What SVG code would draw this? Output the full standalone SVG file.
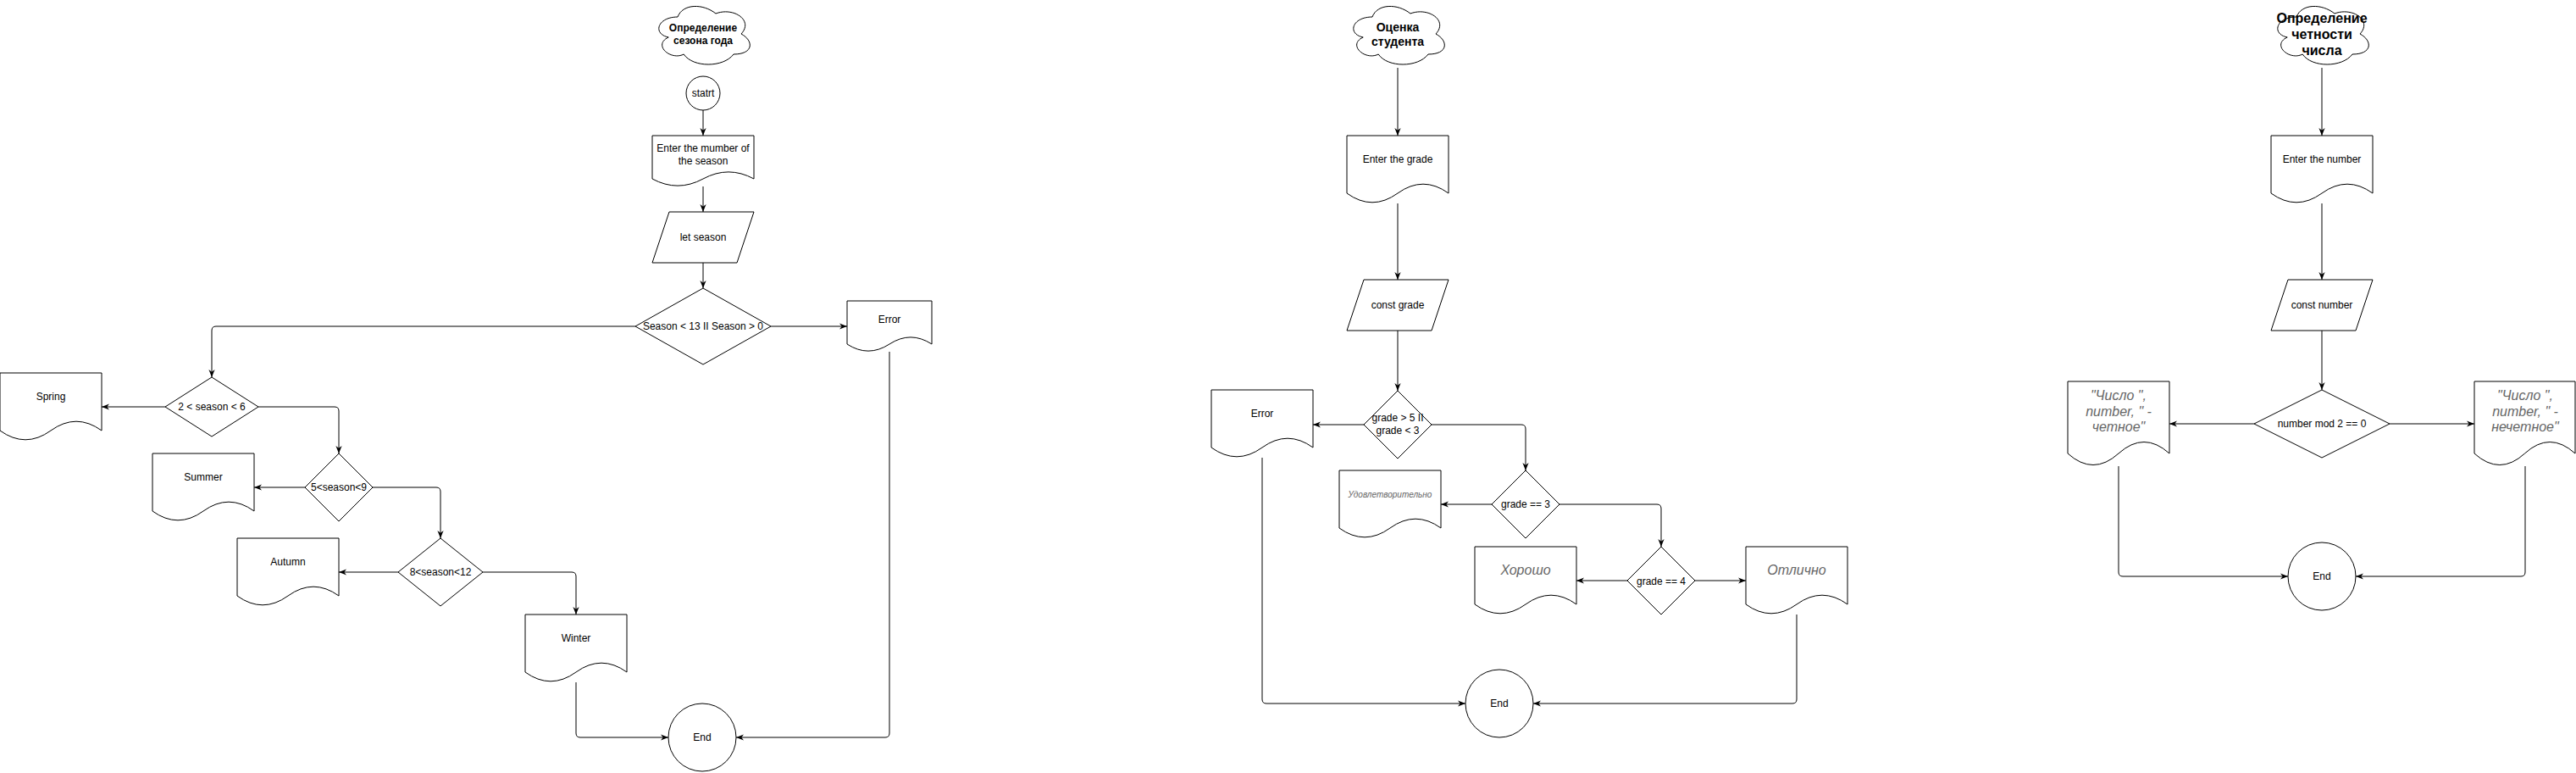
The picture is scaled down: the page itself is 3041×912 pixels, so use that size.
<svg xmlns="http://www.w3.org/2000/svg" width="3041" height="912" viewBox="0 0 3041 912">
<style>
.s{fill:#fff;stroke:#000;stroke-width:1}
.c{fill:none;stroke:#000;stroke-width:1}
text{font-family:"Liberation Sans",Arial,Helvetica,sans-serif;font-size:12px;fill:#000;text-anchor:middle;dominant-baseline:central}
.b12{font-weight:bold;font-size:12px}
.b14{font-weight:bold;font-size:14px}
.b16{font-weight:bold;font-size:16px}
.g{font-style:italic;fill:#666}
.g10{font-size:10px}
.g16{font-size:16px}
</style>
<defs>
<path id="cloud" d="M30,20 C6,20 0,40 19.2,44 C0,52.8 21.6,72 37.2,64 C48,80 84,80 96,64 C120,64 120,48 105,40 C120,24 96,8 75,16 C60,4 36,4 30,20 Z"/>
<marker id="a" viewBox="0 0 10 10" refX="10" refY="5" markerWidth="9" markerHeight="9" markerUnits="userSpaceOnUse" orient="auto"><path d="M0,1 L10,5 L0,9 L3,5 Z" fill="#000"/></marker>
</defs>
<rect width="3041" height="912" fill="#fff"/>

<g id="connectors" class="c" marker-end="url(#a)">
<path d="M830,130 V160"/>
<path d="M830,220 V250"/>
<path d="M830,310 V340"/>
<path d="M910,385 H1000"/>
<path d="M750,385 H255 Q250,385 250,390 V445"/>
<path d="M195,480 H120"/>
<path d="M305,480 H395 Q400,480 400,485 V535"/>
<path d="M360,575 H300"/>
<path d="M440,575 H515 Q520,575 520,580 V635"/>
<path d="M470,675 H400"/>
<path d="M570,675 H675 Q680,675 680,680 V725"/>
<path d="M680,805 V865 Q680,870 685,870 H789"/>
<path d="M1050,415 V865 Q1050,870 1045,870 H869"/>

<path d="M1650,80 V160"/>
<path d="M1650,240 V330"/>
<path d="M1650,390 V461"/>
<path d="M1610,501 H1550"/>
<path d="M1690,501 H1796 Q1801,501 1801,506 V555"/>
<path d="M1761,595 H1701"/>
<path d="M1841,595 H1956 Q1961,595 1961,600 V645"/>
<path d="M1921,685 H1861"/>
<path d="M2001,685 H2061"/>
<path d="M1490,540 V825 Q1490,830 1495,830 H1730"/>
<path d="M2121,725 V825 Q2121,830 2116,830 H1810"/>

<path d="M2741,80 V160"/>
<path d="M2741,240 V330"/>
<path d="M2741,390 V460"/>
<path d="M2661,500 H2561"/>
<path d="M2821,500 H2921"/>
<path d="M2501,550 V675 Q2501,680 2506,680 H2701"/>
<path d="M2981,550 V675 Q2981,680 2976,680 H2781"/>
</g>

<!-- Chart 1 -->
<g id="cloud1"><use href="#cloud" x="770" y="0" class="s"/><text x="830" y="33" class="b12">Определение</text><text x="830" y="48" class="b12">сезона года</text></g>
<g id="start1"><circle cx="830" cy="110" r="20" class="s"/><text x="830" y="110">statrt</text></g>
<g id="enter1"><path class="s" d="M770,160 H890 V211 Q860,194.8 830,211 Q800,227.2 770,211 Z"/><text x="830" y="175">Enter the mumber of</text><text x="830" y="190">the season</text></g>
<g id="let1"><polygon class="s" points="790,250 890,250 870,310 770,310"/><text x="830" y="280">let season</text></g>
<g id="d1"><polygon class="s" points="830,340 910,385 830,430 750,385"/><text x="830" y="385">Season &lt; 13 II Season &gt; 0</text></g>
<g id="error1"><path class="s" d="M1000,355 H1100 V406 Q1075,389.8 1050,406 Q1025,422.2 1000,406 Z"/><text x="1050" y="377">Error</text></g>
<g id="d2"><polygon class="s" points="250,445 305,480 250,515 195,480"/><text x="250" y="480">2 &lt; season &lt; 6</text></g>
<g id="spring"><path class="s" d="M0,440 H120 V508 Q90,486.4 60,508 Q30,529.6 0,508 Z"/><text x="60" y="468">Spring</text></g>
<g id="d3"><polygon class="s" points="400,535 440,575 400,615 360,575"/><text x="400" y="575">5&lt;season&lt;9</text></g>
<g id="summer"><path class="s" d="M180,535 H300 V603 Q270,581.4 240,603 Q210,624.6 180,603 Z"/><text x="240" y="563">Summer</text></g>
<g id="d4"><polygon class="s" points="520,635 570,675 520,715 470,675"/><text x="520" y="675">8&lt;season&lt;12</text></g>
<g id="autumn"><path class="s" d="M280,635 H400 V703 Q370,681.4 340,703 Q310,724.6 280,703 Z"/><text x="340" y="663">Autumn</text></g>
<g id="winter"><path class="s" d="M620,725 H740 V793 Q710,771.4 680,793 Q650,814.6 620,793 Z"/><text x="680" y="753">Winter</text></g>
<g id="end1"><circle cx="829" cy="870" r="40" class="s"/><text x="829" y="870">End</text></g>

<!-- Chart 2 -->
<g id="cloud2"><use href="#cloud" x="1590" y="0" class="s"/><text x="1650" y="32" class="b14">Оценка</text><text x="1650" y="49" class="b14">студента</text></g>
<g id="enter2"><path class="s" d="M1590,160 H1710 V228 Q1680,206.4 1650,228 Q1620,249.6 1590,228 Z"/><text x="1650" y="188">Enter the grade</text></g>
<g id="const2"><polygon class="s" points="1610,330 1710,330 1690,390 1590,390"/><text x="1650" y="360">const grade</text></g>
<g id="dA"><polygon class="s" points="1650,461 1690,501 1650,541 1610,501"/><text x="1650" y="493">grade &gt; 5 II</text><text x="1650" y="508">grade &lt; 3</text></g>
<g id="error2"><path class="s" d="M1430,460 H1550 V528 Q1520,506.4 1490,528 Q1460,549.6 1430,528 Z"/><text x="1490" y="488">Error</text></g>
<g id="dB"><polygon class="s" points="1801,555 1841,595 1801,635 1761,595"/><text x="1801" y="595">grade == 3</text></g>
<g id="udovl"><path class="s" d="M1581,555 H1701 V623 Q1671,601.4 1641,623 Q1611,644.6 1581,623 Z"/><text x="1641" y="583" class="g g10">Удовлетворительно</text></g>
<g id="dC"><polygon class="s" points="1961,645 2001,685 1961,725 1921,685"/><text x="1961" y="686">grade == 4</text></g>
<g id="horosho"><path class="s" d="M1741,645 H1861 V713 Q1831,691.4 1801,713 Q1771,734.6 1741,713 Z"/><text x="1801" y="672" class="g g16">Хорошо</text></g>
<g id="otlichno"><path class="s" d="M2061,645 H2181 V713 Q2151,691.4 2121,713 Q2091,734.6 2061,713 Z"/><text x="2121" y="672" class="g g16">Отлично</text></g>
<g id="end2"><circle cx="1770" cy="830" r="40" class="s"/><text x="1770" y="830">End</text></g>

<!-- Chart 3 -->
<g id="cloud3"><use href="#cloud" x="2681" y="0" class="s"/><text x="2741" y="21" class="b16">Определение</text><text x="2741" y="40" class="b16">четности</text><text x="2741" y="59" class="b16">числа</text></g>
<g id="enter3"><path class="s" d="M2681,160 H2801 V228 Q2771,206.4 2741,228 Q2711,249.6 2681,228 Z"/><text x="2741" y="188">Enter the number</text></g>
<g id="const3"><polygon class="s" points="2701,330 2801,330 2781,390 2681,390"/><text x="2741" y="360">const number</text></g>
<g id="d5"><polygon class="s" points="2741,460 2821,500 2741,540 2661,500"/><text x="2741" y="500">number mod 2 == 0</text></g>
<g id="even"><path class="s" d="M2441,450 H2561 V535 Q2531,508 2501,535 Q2471,562 2441,535 Z"/><text x="2501" y="466" class="g g16">"Число ",</text><text x="2501" y="485" class="g g16">number, " -</text><text x="2501" y="503" class="g g16">четное"</text></g>
<g id="odd"><path class="s" d="M2921,450 H3040 V535 Q3010,508 2980.5,535 Q2951,562 2921,535 Z"/><text x="2981" y="466" class="g g16">"Число ",</text><text x="2981" y="485" class="g g16">number, " -</text><text x="2981" y="503" class="g g16">нечетное"</text></g>
<g id="end3"><circle cx="2741" cy="680" r="40" class="s"/><text x="2741" y="680">End</text></g>
</svg>
